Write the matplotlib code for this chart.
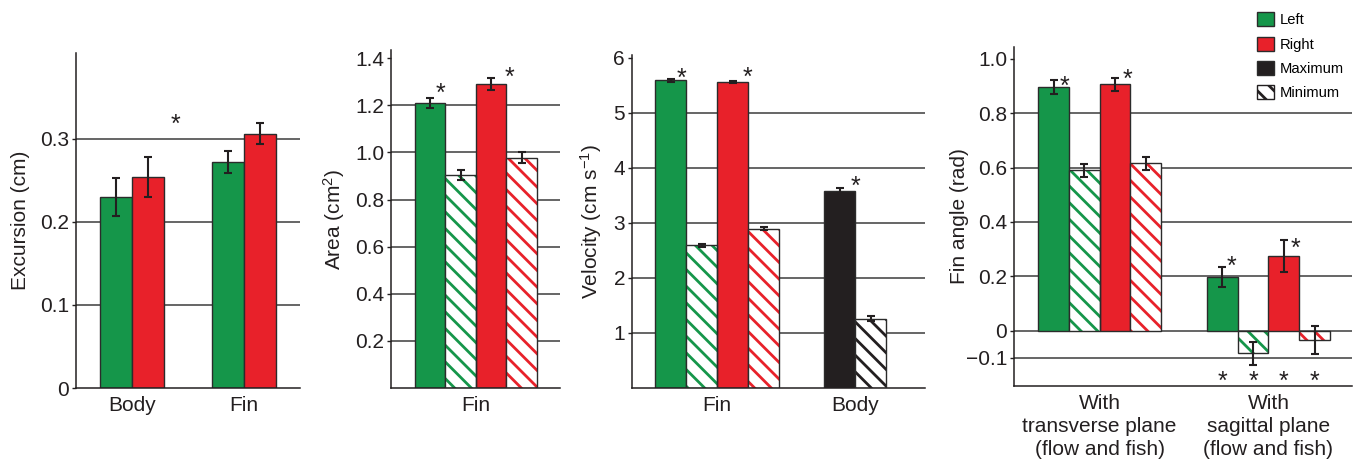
import numpy as np
import matplotlib
matplotlib.use("Agg")
import matplotlib.pyplot as plt
from matplotlib.patches import Patch

plt.rcParams['font.family'] = ['Liberation Sans', 'DejaVu Sans']
plt.rcParams['mathtext.default'] = 'regular'
plt.rcParams['hatch.linewidth'] = 2.0

# colours
GREEN = '#15964a'
RED = '#e8212a'
BLACK = '#231f20'
EDGE = '#2b2b2b'
GRID = '#3c3c3c'

# ---- data ----
# Excursion (cm)
exc_groups = ['Body', 'Fin']
exc_left = [0.230, 0.272]
exc_left_err = [0.023, 0.013]
exc_right = [0.254, 0.306]
exc_right_err = [0.024, 0.013]

# Area (cm^2), fin only: left max, left min, right max, right min
area_vals = [1.209, 0.905, 1.290, 0.978]
area_err = [0.022, 0.022, 0.025, 0.022]

# Velocity (cm/s)
vel_fin_vals = [5.587, 2.593, 5.556, 2.896]
vel_fin_err = [0.02, 0.03, 0.02, 0.02]
vel_body_vals = [3.587, 1.260]
vel_body_err = [0.04, 0.04]

# Fin angle (rad)
ang_groups = ['With\ntransverse plane\n(flow and fish)',
              'With\nsagittal plane\n(flow and fish)']
ang_transverse = [0.896, 0.590, 0.906, 0.615]
ang_transverse_err = [0.024, 0.023, 0.024, 0.024]
ang_sagittal = [0.198, -0.083, 0.275, -0.034]
ang_sagittal_err = [0.038, 0.042, 0.059, 0.051]

W, H = 1356, 459
fig = plt.figure(figsize=(W / 100, H / 100), dpi=100)


def make_axes(left, right, top, bottom):
    return fig.add_axes([left / W, 1 - bottom / H, (right - left) / W, (bottom - top) / H])


def style(ax, ylim, yticks, ylabels, label, label_x):
    ax.set_ylim(*ylim)
    ax.set_yticks(yticks)
    ax.set_yticklabels(ylabels)
    for s in ['top', 'right']:
        ax.spines[s].set_visible(False)
    for s in ['left', 'bottom']:
        ax.spines[s].set_color(BLACK)
        ax.spines[s].set_linewidth(1.1)
    ax.tick_params(axis='y', direction='out', length=3, width=1.0, pad=2,
                   labelsize=15, colors=BLACK)
    ax.tick_params(axis='x', length=0, pad=5.5, labelsize=15, labelcolor=BLACK)
    ax.yaxis.grid(True, color=GRID, linewidth=1.1)
    ax.set_axisbelow(True)
    ax.set_ylabel(label, fontsize=15, color=BLACK)
    ax.yaxis.set_label_coords(label_x, 0.5)


def solid(ax, x, v, e, color, w=1.0):
    ax.bar(x, v, w, color=color, edgecolor=EDGE, linewidth=1.0, zorder=2)
    ax.errorbar(x, v, yerr=e, fmt='none', ecolor=BLACK, elinewidth=1.5,
                capsize=3, capthick=1.5, zorder=4)


def hatched(ax, x, v, e, color, w=1.0):
    ax.bar(x, v, w, color='white', edgecolor=color, hatch='\\\\', linewidth=0, zorder=2)
    ax.bar(x, v, w, fill=False, edgecolor=EDGE, linewidth=1.0, zorder=3)
    ax.errorbar(x, v, yerr=e, fmt='none', ecolor=BLACK, elinewidth=1.5,
                capsize=3, capthick=1.5, zorder=4)


def star(ax, x, y, dx=0, dy=0):
    fs = 18
    ax.annotate('*', xy=(x, y), xytext=(dx * 0.72, dy * 0.72 - 0.58 * fs),
                textcoords='offset points', ha='center', va='baseline',
                fontsize=fs, color=BLACK, zorder=5)


def hide_top_grid(ax):
    ax.get_ygridlines()[-1].set_visible(False)


four = np.array([-1.5, -0.5, 0.5, 1.5])
colors4 = [GREEN, GREEN, RED, RED]

# ---- panel 1: excursion ----
ax1 = make_axes(76, 300, 53, 388)
xg = np.arange(len(exc_groups))
bw = 0.29
solid(ax1, xg - bw / 2, exc_left, exc_left_err, GREEN, bw)
solid(ax1, xg + bw / 2, exc_right, exc_right_err, RED, bw)
ax1.set_xlim(-0.5, 1.5)
ax1.set_xticks(xg)
ax1.set_xticklabels(exc_groups)
style(ax1, (0, 0.403), [0, 0.1, 0.2, 0.3], ['0', '0.1', '0.2', '0.3'],
      'Excursion (cm)', -0.205)
ax1.get_ygridlines()[0].set_visible(False)
star(ax1, 0.39, 0.325)

# ---- panel 2: area ----
ax2 = make_axes(391, 560, 50, 388)
for i in range(4):
    f = solid if i % 2 == 0 else hatched
    f(ax2, four[i], area_vals[i], area_err[i], colors4[i])
ax2.set_xlim(-2.78, 2.76)
ax2.set_xticks([0])
ax2.set_xticklabels(['Fin'])
yt = [0.2, 0.4, 0.6, 0.8, 1.0, 1.2, 1.4]
style(ax2, (0, 1.435), yt, [f'{v:.1f}' for v in yt], 'Area (cm$^2$)', -0.26)
hide_top_grid(ax2)
star(ax2, four[0], area_vals[0] + area_err[0], 10, 12)
star(ax2, four[2], area_vals[2] + area_err[2], 18, 8)

# ---- panel 3: velocity ----
ax3 = make_axes(632, 925, 55, 388)
body = np.array([3.95, 4.95])
for i in range(4):
    f = solid if i % 2 == 0 else hatched
    f(ax3, four[i], vel_fin_vals[i], vel_fin_err[i], colors4[i])
solid(ax3, body[0], vel_body_vals[0], vel_body_err[0], BLACK)
hatched(ax3, body[1], vel_body_vals[1], vel_body_err[1], BLACK)
ax3.set_xlim(-2.75, 6.7)
ax3.set_xticks([0, body.mean()])
ax3.set_xticklabels(['Fin', 'Body'])
yt = [1, 2, 3, 4, 5, 6]
style(ax3, (0, 6.05), yt, [str(v) for v in yt], 'Velocity (cm s$^{-1}$)', -0.094)
hide_top_grid(ax3)
star(ax3, four[0], vel_fin_vals[0] + vel_fin_err[0], 11, 8)
star(ax3, four[2], vel_fin_vals[2] + vel_fin_err[2], 15, 11)
star(ax3, body[0], vel_body_vals[0] + vel_body_err[0], 16, 9)

# ---- panel 4: fin angle ----
ax4 = make_axes(1014, 1352, 47, 386)
g2 = four + 5.5
for i in range(4):
    f = solid if i % 2 == 0 else hatched
    f(ax4, four[i], ang_transverse[i], ang_transverse_err[i], colors4[i])
    f(ax4, g2[i], ang_sagittal[i], ang_sagittal_err[i], colors4[i])
ax4.set_xlim(-2.79, 8.22)
ax4.set_xticks([0, 5.5])
ax4.set_xticklabels(ang_groups, linespacing=1.27)
yt = [-0.1, 0, 0.2, 0.4, 0.6, 0.8, 1.0]
style(ax4, (-0.203, 1.043), yt,
      ['\u22120.1', '0', '0.2', '0.4', '0.6', '0.8', '1.0'], 'Fin angle (rad)', -0.132)
hide_top_grid(ax4)
star(ax4, four[0], ang_transverse[0] + ang_transverse_err[0], 11, 1)
star(ax4, four[2], ang_transverse[2] + ang_transverse_err[2], 12, 5)
star(ax4, g2[0], ang_sagittal[0] + ang_sagittal_err[0], 9, 7)
star(ax4, g2[2], ang_sagittal[2] + ang_sagittal_err[2], 12, -1)
for x in g2:
    star(ax4, x, -0.159)

# ---- legend ----
handles = [
    Patch(facecolor=GREEN, edgecolor=EDGE, label='Left'),
    Patch(facecolor=RED, edgecolor=EDGE, label='Right'),
    Patch(facecolor=BLACK, edgecolor=EDGE, label='Maximum'),
    Patch(facecolor='white', edgecolor=BLACK, hatch='\\\\', label='Minimum'),
]
fig.legend(handles=handles, loc='upper left', bbox_to_anchor=(1250 / W, 1 - 5 / H),
           frameon=False, borderpad=0, handlelength=1.1, handleheight=1.1,
           labelspacing=0.62, handletextpad=0.45, fontsize=10.6)

fig.savefig('out.png', dpi=100)
